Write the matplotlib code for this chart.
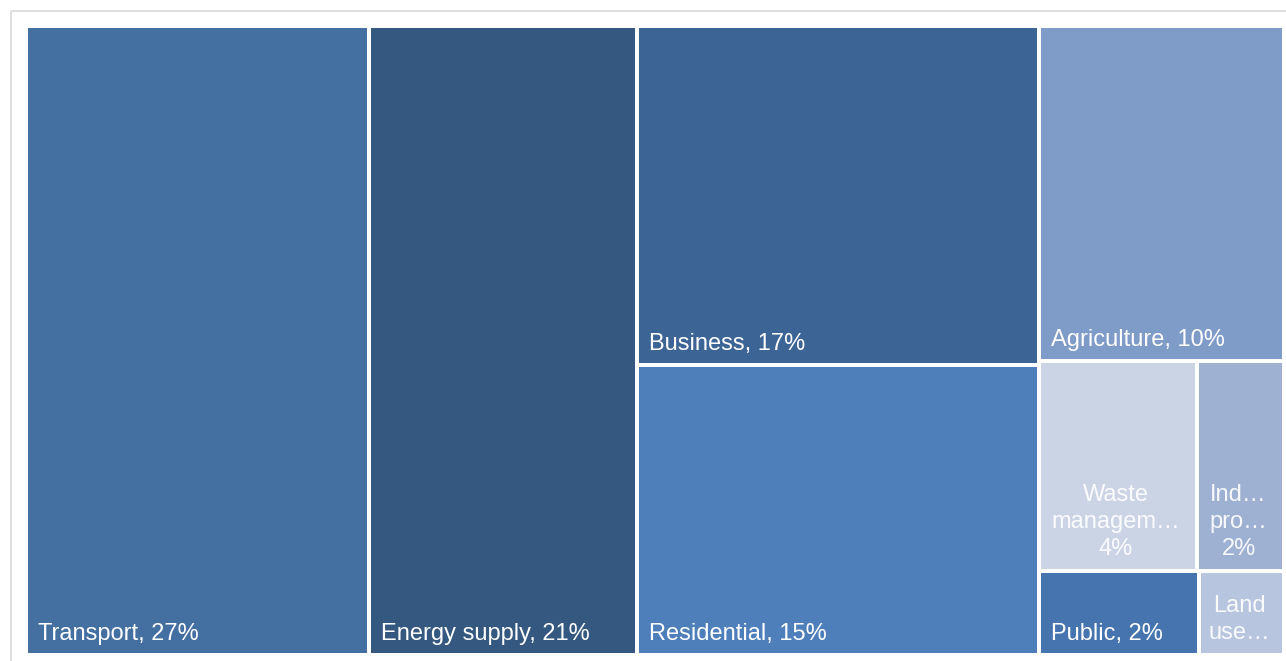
import matplotlib
matplotlib.use("Agg")
import matplotlib.pyplot as plt
from matplotlib.patches import Rectangle

# ---- data ----
sectors = ["Transport", "Energy supply", "Business", "Residential", "Agriculture",
           "Waste management", "Industrial processes", "Public", "Land use"]
shares = [27.3, 21.3, 17.2, 14.7, 10.4, 4.2, 2.3, 1.7, 0.9]
labels = ["Transport, 27%", "Energy supply, 21%", "Business, 17%", "Residential, 15%",
          "Agriculture, 10%", "Waste\nmanagem\u2026\n4%", "Ind\u2026\npro\u2026\n2%",
          "Public, 2%", "Land\nuse\u2026"]
colors = ["#436fa1", "#34587f", "#3c6495", "#4e7fbb", "#7f9bc7",
          "#cbd4e5", "#9fb1d2", "#4674ae", "#b7c5df"]
centered = [False, False, False, False, False, True, True, False, True]

# treemap hierarchy (indices into the arrays above)
tree = ("h", [0, 1, ("v", [2, 3]), ("v", [4, ("h", [5, 6]), ("h", [7, 8])])])


def total(node):
    if isinstance(node, int):
        return shares[node]
    return sum(total(c) for c in node[1])


def layout(node, x0, y0, x1, y1, out):
    if isinstance(node, int):
        out[node] = (x0, y0, x1, y1)
        return
    d, kids = node
    s = total(node)
    pos = x0 if d == "h" else y0
    for k in kids:
        frac = total(k) / s
        if d == "h":
            w = (x1 - x0) * frac
            layout(k, pos, y0, pos + w, y1, out)
        else:
            h = (y1 - y0) * frac
            layout(k, x0, pos, x1, pos + h, out)
        pos += w if d == "h" else h


W, H = 1286, 661
fig = plt.figure(figsize=(W / 100, H / 100), dpi=100)
ax = fig.add_axes([0, 0, 1, 1])
ax.set_xlim(0, W)
ax.set_ylim(H, 0)
ax.axis("off")

# outer light frame
ax.add_patch(Rectangle((11, 11), 1300, 700, fill=False, edgecolor="#d9d9d9",
                       linewidth=1.2, clip_on=False))

rects = {}
layout(tree, 26, 26, 1284, 655, rects)
gap = 2
font = ["Liberation Sans", "DejaVu Sans"]
for i, (x0, y0, x1, y1) in rects.items():
    ax.add_patch(Rectangle((x0 + gap, y0 + gap), (x1 - x0) - 2 * gap, (y1 - y0) - 2 * gap,
                           facecolor=colors[i], edgecolor="none"))
    if centered[i]:
        ax.text((x0 + x1) / 2 - 2, y1 - gap - 14, labels[i], ha="center", va="baseline",
                color="white", alpha=0.92, fontsize=17, family=font, linespacing=1.3,
                multialignment="center")
    else:
        ax.text(x0 + gap + 10, y1 - gap - 13, labels[i], ha="left", va="baseline",
                color="white", fontsize=17, family=font)

fig.savefig("out.png", dpi=100, facecolor="white")
